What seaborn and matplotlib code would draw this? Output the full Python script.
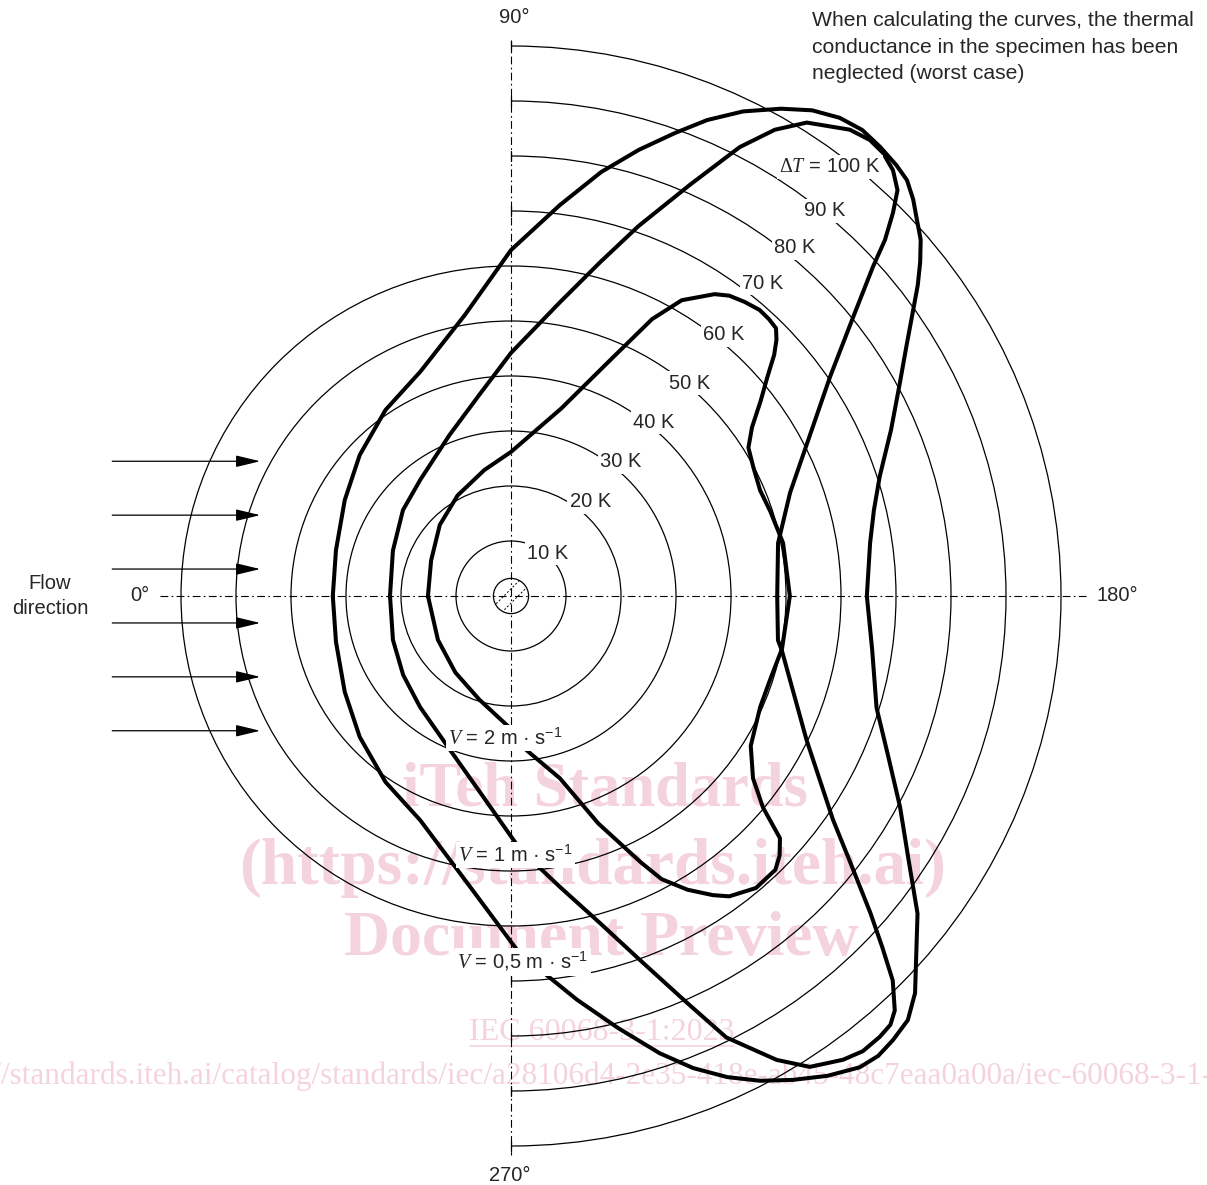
import numpy as np
import pandas as pd
import matplotlib
matplotlib.use("Agg")
import matplotlib.pyplot as plt
from matplotlib.patches import Arc, Circle
import seaborn as sns

# temperature rise dT (K) read round the specimen, angle in degrees
# (0 = upstream side, 90 = top, 180 = downstream, 270 = bottom)
ang_v2 = [0, 24, 45, 62, 78, 90, 105, 113, 117, 120, 124, 126, 128.5, 131, 133,
          134.7, 136, 137.5, 139.5, 142, 145, 148, 152, 157, 162, 169, 180, 191, 198,
          204, 212, 217, 220, 222, 224, 226, 230, 234, 236, 239, 242, 244, 249, 255,
          265, 271, 287, 306, 329, 360]
dT_v2 = [15.1, 15.9, 18.3, 20.7, 23.4, 26.2, 35.3, 46.9, 56.5, 62.1, 66.2, 67.5, 68.3,
         68.9, 68.8, 68.5, 67.1, 64.9, 61.3, 57.6, 53.5, 50.9, 49.9, 49.2, 49.6, 50.4,
         50.7, 50.2, 49.5, 49.6, 51.4, 55.1, 59.8, 65.8, 67.9, 69.2, 69.3, 67.5, 65.6,
         62.3, 58.3, 53.9, 44.3, 34.3, 27.8, 23.8, 19.7, 17.2, 15.5, 15.1]

ang_v1 = [0, 21, 38.5, 52, 69, 81, 90, 99.5, 105, 109, 113.5, 117, 119.5, 122, 126,
          128.2, 130, 131.9, 133.6, 134.9, 136.4, 137.7, 140.8, 145.5, 152.7, 159.7,
          168.8, 180, 189.4, 191.3, 206, 214.8, 218, 221.4, 223.4, 225.2, 227.2, 228.5,
          230.1, 232.3, 234.4, 237.6, 240.2, 244, 246.6, 250.5, 254.8, 260.4, 265,
          268.6, 279, 291.6, 309.3, 323.8, 339.6, 360]
dT_v1 = [22.0, 23.0, 25.1, 26.8, 31.3, 37.0, 44.2, 54.2, 62.9, 71.1, 81.5, 91.6, 97.4,
         101.5, 104.8, 105.5, 105.2, 104.0, 101.9, 98.4, 93.9, 89.0, 80.3, 70.4, 60.6,
         54.1, 49.5, 48.4, 49.2, 50.2, 59.8, 71.3, 78.1, 87.1, 92.9, 98.5, 102.7, 104.1,
         104.5, 104.6, 103.7, 101.4, 97.2, 89.3, 80.6, 70.2, 61.6, 53.7, 48.7, 45.3,
         36.1, 30.1, 26.1, 24.3, 22.9, 22.0]

ang_v05 = [0, 14.7, 30, 43, 56, 68, 80.7, 90, 97.1, 102, 106, 109.5, 112.4, 115.6, 119,
           121.8, 124.5, 127, 129.4, 131.8, 133.6, 135.4, 137.2, 139, 140.8, 142.6,
           144.6, 147.6, 151.3, 156.4, 162, 166.7, 171.6, 180, 188.5, 197, 203, 208.5,
           213.6, 218, 222, 224.5, 226.9, 229.3, 231.4, 233.5, 236.6, 239.8, 242.8,
           245.8, 248.9, 252, 256.1, 260.7, 265, 269, 278, 292, 304, 317, 330, 345.3, 360]
dT_v05 = [32.4, 32.9, 34.9, 37.6, 40.8, 44.0, 51.8, 62.9, 71.6, 78.8, 84.4, 89.3, 93.6,
          97.7, 101.3, 103.9, 105.5, 106.1, 105.7, 105.1, 104.4, 102.7, 100.6, 98.7,
          96.0, 93.1, 89.7, 85.2, 80.6, 75.4, 70.5, 67.8, 66.0, 64.7, 66.4, 69.5, 74.5,
          80.5, 86.8, 93.8, 99.1, 103.0, 105.6, 106.5, 107.0, 106.6, 104.5, 101.8, 99.1,
          95.9, 92.0, 87.4, 80.9, 74.4, 68.8, 64.4, 53.4, 44.0, 40.8, 37.6, 34.9, 32.9,
          32.4]

rings = [10, 20, 30, 40, 50, 60, 70, 80, 90, 100]
full_rings = 6  # the first six are whole circles, the rest only on the downstream side
ring_labels = ["10 K", "20 K", "30 K", "40 K", "50 K", "60 K", "70 K", "80 K", "90 K",
               "$\\Delta T$ = 100 K"]
curve_labels = ["$V$ = 2 m · s$^{\\mathsf{-1}}$", "$V$ = 1 m · s$^{\\mathsf{-1}}$",
                "$V$ = 0,5 m · s$^{\\mathsf{-1}}$"]

sns.set_style("white")
plt.rcParams["font.family"] = ["Liberation Sans", "DejaVu Sans"]
plt.rcParams["mathtext.fontset"] = "custom"
plt.rcParams["mathtext.rm"] = "Liberation Serif"
plt.rcParams["mathtext.it"] = "Liberation Serif:italic"
plt.rcParams["mathtext.sf"] = "Liberation Sans"

frames = []
for name, ang, dT in [("v2", ang_v2, dT_v2), ("v1", ang_v1, dT_v1), ("v05", ang_v05, dT_v05)]:
    t = np.radians(ang)
    r = np.array(dT)
    frames.append(pd.DataFrame({"x": -r * np.cos(t), "y": r * np.sin(t), "curve": name}))
df = pd.concat(frames, ignore_index=True)

# 5.5 px per kelvin, centre of the specimen at pixel (511, 596)
fig = plt.figure(figsize=(12.07, 11.85), dpi=100)
ax = fig.add_axes([0, 0, 1, 1])
xlim = (-511 / 5.5, (1207 - 511) / 5.5)
ylim = ((596 - 1185) / 5.5, 596 / 5.5)
ax.axis("off")

# watermark
pink = "#f5d3dd"
wm = dict(color=pink, family="Liberation Serif", ha="center", va="center", zorder=0.5)
ax.text(17.1, -35.3, "iTeh Standards", fontsize=45, weight="bold", **wm)
ax.text(14.9, -49.5, "(https://standards.iteh.ai)", fontsize=47, weight="bold", **wm)
ax.text(16.5, -62.6, "Document Preview", fontsize=46, weight="bold", **wm)
ax.text(16.5, -79.3, "IEC 60068-3-1:2023", fontsize=23, **wm)
ax.plot([-7.5, 40.5], [-81.8, -81.8], color=pink, lw=1.2, zorder=0.5)
ax.text(16.0, -87.3, "https://standards.iteh.ai/catalog/standards/iec/a28106d4-2e35-418e-ab45-48c7eaa0a00a/iec-60068-3-1-2023",
        fontsize=22.5, **wm)

# rings of constant temperature rise
for i, r in enumerate(rings):
    if i < full_rings:
        ax.add_patch(Circle((0, 0), r, fill=False, lw=0.9, color="k", zorder=1))
    else:
        ax.add_patch(Arc((0, 0), 2 * r, 2 * r, theta1=-90, theta2=90, lw=0.9, color="k", zorder=1))
        for s in (1, -1):
            ax.plot([0, 0], [s * r - 0.9, s * r + 0.9], color="k", lw=0.9, zorder=1)

# axes through the specimen
dashdot = (0, (7, 3, 1.5, 3))
ax.plot([-63.8, 104.7], [0, 0], color="k", lw=0.8, ls=dashdot, zorder=1)
ax.plot([0, 0], [101.1, -101.6], color="k", lw=0.8, ls=dashdot, zorder=1)

# specimen
spec = Circle((0, 0), 3.2, fill=False, lw=0.9, color="k", zorder=2)
ax.add_patch(spec)
for c in (-1.3, 1.3):
    ln, = ax.plot([-3.2, 3.2], [-3.2 + c, 3.2 + c], color="k", lw=0.7, ls=(0, (2, 2)), zorder=2)
    ln.set_clip_path(spec)

# temperature curves
sns.lineplot(data=df, x="x", y="y", hue="curve", palette={"v2": "k", "v1": "k", "v05": "k"},
             sort=False, estimator=None, legend=False, lw=2.9, ax=ax, zorder=3,
             solid_joinstyle="round", solid_capstyle="round")
ax.set_xlim(*xlim)
ax.set_ylim(*ylim)

# flow arrows
for yy in [24.5, 14.7, 4.9, -4.9, -14.7, -24.5]:
    ax.annotate("", xy=(-45.6, yy), xytext=(-72.5, yy),
                arrowprops=dict(arrowstyle="-|>,head_length=0.75,head_width=0.18",
                                mutation_scale=20, lw=0.9, color="k",
                                shrinkA=0, shrinkB=0), zorder=2)

box = dict(boxstyle="square,pad=0.12", fc="white", ec="none")
ring_pos = [(6.7, 7.8), (14.4, 17.1), (20.0, 24.4), (26.0, 31.6), (32.4, 38.7),
            (38.7, 47.5), (45.8, 56.9), (51.6, 63.3), (57.1, 70.0), (58.0, 78.0)]
for (x, y), lab in zip(ring_pos, ring_labels):
    ax.text(x, y, lab, fontsize=14.5, ha="center", va="center", bbox=box, zorder=4)

curve_pos = [(-11.4, -25.8), (-9.6, -47.1), (-9.8, -66.5)]
for (x, y), lab in zip(curve_pos, curve_labels):
    ax.text(x, y, lab, fontsize=14.5, ha="left", va="center", bbox=box, zorder=4)

ax.text(-67.5, 0, "0°", fontsize=14.5, ha="center", va="center")
ax.text(110.2, 0, "180°", fontsize=14.5, ha="center", va="center")
ax.text(0.6, 105.2, "90°", fontsize=14.5, ha="center", va="center")
ax.text(-0.2, -105.3, "270°", fontsize=14.5, ha="center", va="center")
ax.text(-83.8, 0, "Flow\ndirection", fontsize=14.5, ha="center", va="center", linespacing=1.4)
ax.text(54.7, 106.3, "When calculating the curves, the thermal\nconductance in the specimen has been\n"
        "neglected (worst case)", fontsize=15.2, ha="left", va="top", linespacing=1.5)

fig.savefig("out.png", dpi=100)
